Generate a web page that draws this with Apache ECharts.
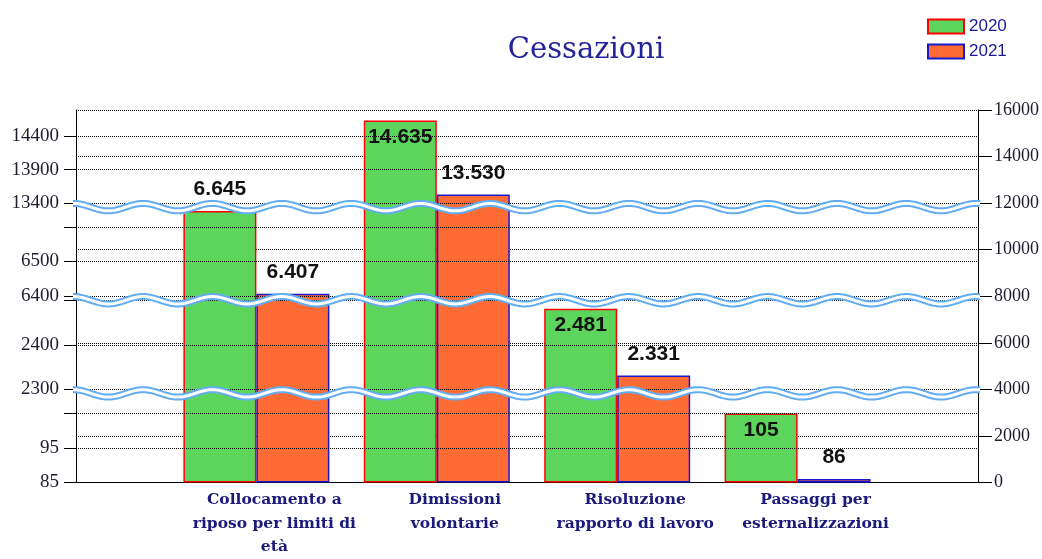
<!DOCTYPE html>
<html><head><meta charset="utf-8">
<script src="https://cdn.jsdelivr.net/npm/echarts@6/dist/echarts.min.js"></script>
<style>html,body{margin:0;padding:0;background:#fff}#c{width:1042px;height:559px}</style>
</head><body><div id="c"></div>
<script>
// ---- data ----
const categories = ['Collocamento a\nriposo per limiti di\netà', 'Dimissioni\nvolontarie', 'Risoluzione\nrapporto di lavoro', 'Passaggi per\nesternalizzazioni'];
const seriesNames = ['2020', '2021'];
const values2020 = [6645, 14635, 2481, 105];
const values2021 = [6407, 13530, 2331, 86];
// left (broken) axis: value ranges shown in each quarter of the plot height
const segmentRanges = [[85, 112], [2300, 2509], [6400, 6668], [13400, 14790]];
const leftLabelValues = [85, 95, 2300, 2400, 6400, 6500, 13400, 13900, 14400];
const leftTickValues = [85, 95, 105, 2300, 2400, 2500, 6400, 6500, 6600, 13400, 13900, 14400];
// right (linear) axis
const rightMin = 0, rightMax = 16000, rightInterval = 2000;

// ---- helpers ----
const segSpan = (rightMax - rightMin) / segmentRanges.length;
function toAxis(v) {
  let i = 0;
  for (let k = 0; k < segmentRanges.length; k++) if (v >= segmentRanges[k][0]) i = k;
  const lo = segmentRanges[i][0], hi = segmentRanges[i][1];
  return rightMin + i * segSpan + (v - lo) / (hi - lo) * segSpan;
}
function fmt(v) { return String(v).replace(/\B(?=(\d{3})+(?!\d))/g, '.'); }
function leftLabel(val) {
  for (const t of leftLabelValues) if (Math.abs(toAxis(t) - val) < 1e-6) return String(t);
  return '';
}

const chart = echarts.init(document.getElementById('c'), null, {renderer: 'canvas'});
const xData = [''].concat(categories, ['']);
const labelFont = {fontFamily: 'Liberation Sans', fontWeight: 'bold', fontSize: 21, color: '#111'};

function buildData(values, insideFrom) {
  const d = ['-'];
  values.forEach((v, i) => {
    const inside = insideFrom(i);
    d.push({value: toAxis(v), raw: v, label: {position: inside ? 'insideTop' : 'top', distance: inside ? 6 : 11}});
  });
  d.push('-');
  return d;
}

const option = {
  animation: false,
  backgroundColor: '#fff',
  title: {
    text: 'Cessazioni', left: 581, top: 31, textAlign: 'center',
    textStyle: {fontFamily: 'DejaVu Serif', fontSize: 29, fontWeight: 'normal', color: '#24249a'}
  },
  legend: {
    data: seriesNames, orient: 'vertical', left: 922, top: 13,
    itemWidth: 36, itemHeight: 14, itemGap: 8, icon: 'rect',
    textStyle: {fontFamily: 'Liberation Sans', fontSize: 17, color: '#1a1a99'}
  },
  grid: {left: 76, right: 64, top: 110, bottom: 67, containLabel: false},
  xAxis: {
    type: 'category', data: xData, boundaryGap: false,
    axisLine: {lineStyle: {color: '#000', width: 1}},
    axisTick: {show: false},
    splitLine: {show: false},
    axisLabel: {
      interval: 0, margin: 6, padding: [0, 0, 0, 36],
      fontFamily: 'DejaVu Serif', fontWeight: 'bold', fontSize: 15.5, lineHeight: 23.5, color: '#1a1a7a'
    }
  },
  yAxis: [
    {
      type: 'value', position: 'left', min: rightMin, max: rightMax,
      axisLine: {show: true, lineStyle: {color: '#000', width: 1}},
      axisTick: {show: true, length: 12, customValues: leftTickValues.map(toAxis), lineStyle: {color: '#000'}},
      axisLabel: {customValues: leftLabelValues.map(toAxis), formatter: leftLabel, margin: 17,
        fontFamily: 'Liberation Serif', fontSize: 19, color: '#1c1c2e'},
      splitLine: {show: false}
    },
    {
      type: 'value', position: 'right', min: rightMin, max: rightMax, interval: rightInterval,
      axisLine: {show: true, lineStyle: {color: '#000', width: 1}},
      axisTick: {show: true, length: 14, lineStyle: {color: '#000'}},
      axisLabel: {margin: 16, formatter: v => String(v), fontFamily: 'Liberation Serif', fontSize: 18, color: '#1c1c2e'},
      splitLine: {show: true, lineStyle: {color: '#000', type: [1, 1], width: 1}}
    }
  ],
  series: [
    {
      name: 'grid-left', type: 'line', data: [], yAxisIndex: 1, z: 1, silent: true,
      markLine: {
        silent: true, symbol: 'none', label: {show: false}, animation: false,
        lineStyle: {color: '#000', type: [1, 1], width: 1},
        data: leftTickValues.slice(1).map(t => ({yAxis: toAxis(t)}))
      }
    },
    {
      name: seriesNames[0], type: 'bar', yAxisIndex: 1, barWidth: 73, barGap: '0%', z: 2,
      itemStyle: {color: '#5dd55d', borderColor: '#ff0000', borderWidth: 1.5},
      label: Object.assign({show: true, formatter: p => fmt(p.data.raw)}, labelFont),
      data: buildData(values2020, i => i !== 0)
    },
    {
      name: seriesNames[1], type: 'bar', yAxisIndex: 1, barWidth: 73, barGap: '0%', z: 2,
      itemStyle: {color: '#ff6b35', borderColor: '#1a1acc', borderWidth: 1.5},
      label: Object.assign({show: true, formatter: p => fmt(p.data.raw)}, labelFont),
      data: buildData(values2021, i => false)
    }
  ]
};
chart.setOption(option);

// wavy break markers at the segment boundaries
const xStart = chart.convertToPixel({xAxisIndex: 0}, 0) - 3;
const xEnd = chart.convertToPixel({xAxisIndex: 0}, xData.length - 1) + 2;
const graphics = [];
for (let i = 1; i < segmentRanges.length; i++) {
  const yc = chart.convertToPixel({yAxisIndex: 1}, rightMin + i * segSpan) + 4;
  const pts = [];
  for (let x = xStart; x <= xEnd; x += 1) pts.push([x, yc - 3.7 * Math.cos(2 * Math.PI * (x - 143) / 69.4)]);
  graphics.push({type: 'polyline', silent: true, z: 100, shape: {points: pts}, style: {stroke: '#62acf2', lineWidth: 7, fill: null}});
  graphics.push({type: 'polyline', silent: true, z: 101, shape: {points: pts}, style: {stroke: '#ffffff', lineWidth: 3, fill: null}});
}
chart.setOption({graphic: graphics});
</script>
</body></html>
